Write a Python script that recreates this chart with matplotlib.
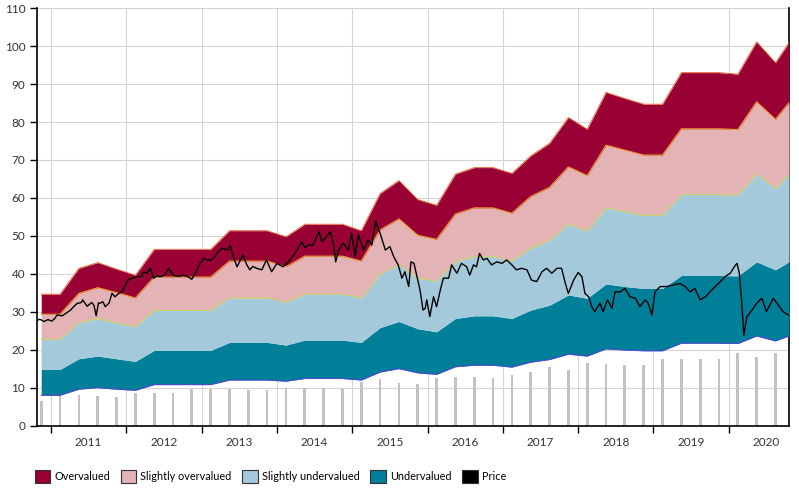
import matplotlib
matplotlib.use('Agg')
import matplotlib.pyplot as plt
from matplotlib.patches import Patch
import numpy as np

plt.rcParams['font.family'] = ['Lato', 'DejaVu Sans']

# quarterly valuation dates (decimal years)
q_dates = [2010.87, 2011.12, 2011.37, 2011.62, 2011.87, 2012.12, 2012.37, 2012.62,
           2012.87, 2013.12, 2013.37, 2013.62, 2013.87, 2014.12, 2014.37, 2014.62,
           2014.87, 2015.12, 2015.37, 2015.62, 2015.87, 2016.12, 2016.37, 2016.62,
           2016.87, 2017.12, 2017.37, 2017.62, 2017.87, 2018.12, 2018.37, 2018.62,
           2018.87, 2019.12, 2019.37, 2019.62, 2019.87, 2020.12, 2020.37, 2020.62]
band_dates = q_dates + [2020.80]

# band boundaries
low = [8.1, 8.1, 9.7, 10.1, 9.7, 9.4, 10.9, 10.9, 10.9, 10.9, 12.1, 12.1, 12.1, 11.8,
       12.5, 12.5, 12.5, 12.1, 14.2, 15.1, 14.0, 13.6, 15.6, 16.0, 16.0, 15.5, 16.8,
       17.5, 18.9, 18.4, 20.3, 20.0, 19.8, 19.8, 21.8, 21.8, 21.8, 21.7, 23.7, 22.4, 23.7]
under_top = [14.9, 14.9, 17.7, 18.4, 17.7, 17.0, 19.9, 19.9, 19.9, 19.9, 22.0, 22.0,
             22.0, 21.3, 22.6, 22.6, 22.6, 22.0, 25.9, 27.5, 25.6, 24.8, 28.3, 29.0,
             29.0, 28.3, 30.5, 31.8, 34.5, 33.6, 37.4, 36.7, 36.2, 36.2, 39.6, 39.6,
             39.6, 39.5, 43.2, 41.1, 43.2]
fair = [22.8, 22.8, 27.2, 28.2, 27.2, 26.1, 30.4, 30.4, 30.4, 30.4, 33.7, 33.7, 33.7,
        32.6, 34.7, 34.7, 34.7, 33.7, 40.0, 42.4, 38.9, 38.1, 43.2, 44.6, 44.6, 43.4,
        46.8, 48.8, 53.1, 51.3, 57.4, 56.4, 55.4, 55.4, 60.9, 60.9, 60.9, 60.7, 66.3,
        62.5, 66.2]
over_low = [29.4, 29.4, 34.9, 36.4, 35.1, 33.7, 39.2, 39.2, 39.2, 39.2, 43.4, 43.4,
            43.4, 41.9, 44.7, 44.7, 44.7, 43.4, 51.6, 54.5, 50.2, 49.1, 55.8, 57.4,
            57.4, 56.0, 60.4, 62.8, 68.2, 65.9, 73.9, 72.6, 71.3, 71.3, 78.2, 78.2,
            78.2, 78.0, 85.3, 80.7, 85.1]
high = [34.7, 34.7, 41.5, 43.0, 41.3, 39.7, 46.5, 46.5, 46.5, 46.5, 51.4, 51.4, 51.4,
        49.8, 53.1, 53.1, 53.1, 51.4, 61.2, 64.6, 59.6, 58.1, 66.3, 68.0, 68.0, 66.5,
        71.1, 74.4, 81.2, 78.1, 87.8, 86.2, 84.7, 84.7, 93.0, 93.0, 93.0, 92.6, 101.1,
        95.6, 100.9]

# grey quarterly bars
bar_vals = [6.6, 8.2, 8.2, 7.9, 7.6, 8.7, 8.7, 8.7, 9.7, 9.7, 9.7, 9.5, 9.5, 10.1,
            10.1, 10.1, 9.7, 11.6, 12.4, 11.3, 11.1, 12.6, 12.9, 12.9, 12.6, 13.4,
            14.2, 15.5, 14.7, 16.6, 16.3, 16.1, 16.1, 17.6, 17.6, 17.6, 17.6, 19.2,
            18.2, 19.2]

# price
price_t = [2010.81, 2010.85, 2010.91, 2010.96, 2011.01, 2011.05, 2011.08, 2011.15,
           2011.21, 2011.26, 2011.30, 2011.35, 2011.39, 2011.41, 2011.42, 2011.48,
           2011.54, 2011.57, 2011.60, 2011.63, 2011.65, 2011.69, 2011.72, 2011.77,
           2011.81, 2011.85, 2011.90, 2011.94, 2011.99, 2012.02, 2012.08, 2012.14,
           2012.20, 2012.23, 2012.27, 2012.32, 2012.36, 2012.41, 2012.45, 2012.51,
           2012.56, 2012.63, 2012.69, 2012.76, 2012.82, 2012.87, 2012.94, 2012.98,
           2013.03, 2013.07, 2013.12, 2013.16, 2013.20, 2013.27, 2013.34, 2013.38,
           2013.42, 2013.47, 2013.55, 2013.60, 2013.64, 2013.68, 2013.73, 2013.80,
           2013.86, 2013.93, 2014.00, 2014.08, 2014.15, 2014.24, 2014.33, 2014.37,
           2014.42, 2014.48, 2014.52, 2014.56, 2014.60, 2014.64, 2014.71, 2014.75,
           2014.78, 2014.82, 2014.88, 2014.95, 2014.99, 2015.04, 2015.08, 2015.15,
           2015.21, 2015.26, 2015.31, 2015.37, 2015.44, 2015.50, 2015.55, 2015.61,
           2015.66, 2015.70, 2015.75, 2015.78, 2015.82, 2015.88, 2015.90, 2015.92,
           2015.94, 2015.97, 2015.99, 2016.03, 2016.08, 2016.12, 2016.17, 2016.21,
           2016.28, 2016.32, 2016.39, 2016.45, 2016.52, 2016.56, 2016.61, 2016.65,
           2016.69, 2016.74, 2016.79, 2016.85, 2016.92, 2016.99, 2017.05, 2017.12,
           2017.18, 2017.25, 2017.32, 2017.38, 2017.45, 2017.52, 2017.58, 2017.65,
           2017.72, 2017.78, 2017.83, 2017.87, 2017.94, 2018.00, 2018.05, 2018.09,
           2018.14, 2018.18, 2018.22, 2018.29, 2018.33, 2018.39, 2018.45, 2018.49,
           2018.56, 2018.62, 2018.69, 2018.76, 2018.82, 2018.89, 2018.93, 2018.98,
           2019.02, 2019.09, 2019.18, 2019.26, 2019.35, 2019.42, 2019.49, 2019.55,
           2019.62, 2019.69, 2019.75, 2019.82, 2019.89, 2019.95, 2020.02, 2020.08,
           2020.11, 2020.14, 2020.17, 2020.20, 2020.24, 2020.31, 2020.37, 2020.44,
           2020.50, 2020.59, 2020.66, 2020.72, 2020.79]
price_v = [27.7, 28.1, 27.5, 28.0, 27.6, 28.3, 29.2, 29.0,
           29.8, 30.5, 31.4, 32.3, 32.4, 32.7, 33.2, 31.5,
           32.5, 31.8, 29.0, 32.4, 32.3, 32.7, 31.4, 32.3,
           34.9, 34.0, 34.9, 35.3, 37.1, 38.4, 38.9, 39.3,
           39.3, 40.6, 40.2, 41.5, 38.9, 39.5, 39.3, 39.7,
           41.5, 39.6, 39.4, 39.7, 39.3, 38.6, 41.1, 42.8,
           44.1, 43.7, 43.7, 44.1, 45.4, 46.8, 46.3, 47.4,
           44.6, 41.9, 45.0, 42.4, 41.1, 42.0, 41.5, 41.1,
           43.7, 40.6, 42.8, 41.9, 43.2, 45.4, 48.5, 47.0,
           47.6, 47.6, 49.5, 51.1, 48.5, 49.4, 51.1, 48.0,
           43.2, 46.3, 48.1, 46.3, 50.7, 44.6, 50.3, 46.3,
           48.9, 47.6, 54.0, 50.7, 46.3, 47.2, 44.6, 42.4,
           38.9, 40.6, 36.7, 43.2, 42.8, 37.5, 35.8, 33.2,
           30.5, 31.0, 33.2, 28.8, 34.0, 31.4, 35.8, 38.9,
           38.9, 42.4, 40.2, 42.8, 41.9, 39.7, 42.4, 41.9,
           45.4, 43.7, 44.1, 42.4, 43.2, 42.8, 43.7, 42.4,
           41.1, 41.5, 41.1, 38.4, 38.0, 40.6, 41.5, 40.2,
           41.5, 41.5, 37.5, 34.9, 38.4, 40.4, 39.3, 34.9,
           34.0, 31.4, 30.1, 32.3, 30.1, 33.2, 31.0, 35.3,
           35.3, 36.2, 34.0, 33.6, 31.4, 33.2, 32.3, 29.2,
           35.3, 36.7, 36.7, 37.1, 37.5, 36.7, 35.3, 36.2,
           33.2, 34.0, 35.3, 36.7, 38.0, 39.3, 40.2, 42.1,
           42.8, 40.2, 33.2, 23.9, 28.8, 30.5, 32.3, 33.6,
           30.1, 33.6, 31.8, 30.1, 29.2]

years = list(range(2011, 2021))
labels = ['Overvalued', 'Slightly overvalued', 'Slightly undervalued', 'Undervalued', 'Price']
colors = ['#990033', '#e3b3b5', '#a3c9da', '#007f99', '#000000']

fig = plt.figure(figsize=(7.99, 4.91), dpi=100)
ax = fig.add_axes([0.0463, 0.1324, 0.9412, 0.8513])

ax.bar(q_dates, bar_vals, width=0.036, color='#c2c2c2', zorder=2)

ax.fill_between(band_dates, low, under_top, color=colors[3], lw=0, zorder=3)
ax.fill_between(band_dates, under_top, fair, color=colors[2], lw=0, zorder=3)
ax.fill_between(band_dates, fair, over_low, color=colors[1], lw=0, zorder=3)
ax.fill_between(band_dates, over_low, high, color=colors[0], lw=0, zorder=3)
ax.plot(band_dates, low, color='#4a4ad0', lw=0.8, zorder=4)
ax.plot(band_dates, fair, color='#c8d46a', lw=0.8, zorder=4)
ax.plot(band_dates, over_low, color='#f0a030', lw=0.8, zorder=4)
ax.plot(band_dates, high, color='#e8602c', lw=0.6, zorder=4)

ax.plot(price_t, price_v, color='black', lw=1.0, zorder=5)

ax.set_xlim(2010.814, 2020.80)
ax.set_ylim(0, 110)
ax.set_yticks(range(0, 111, 10))
ax.set_xticks(years)
ax.set_xticklabels([])
ax.set_xticks([y + 0.5 for y in years], minor=True)
ax.set_xticklabels([str(y) for y in years], minor=True)
ax.tick_params(axis='x', which='minor', length=0, pad=8)
ax.tick_params(axis='both', which='major', length=5, width=1, direction='out',
               labelsize=8.5, labelcolor='#333333')
ax.tick_params(axis='x', which='minor', labelsize=8.5, labelcolor='#333333')
ax.grid(True, which='major', color='#d4d4d4', lw=0.8, zorder=0)
ax.set_axisbelow(True)
for s in ['left', 'bottom', 'right']:
    ax.spines[s].set_color('black')
    ax.spines[s].set_linewidth(1.2)
ax.spines['top'].set_visible(False)

handles = [Patch(facecolor=c, edgecolor='#333333', lw=0.8) for c in colors]
fig.legend(handles, labels, loc='center left', bbox_to_anchor=(0.038, 0.029),
           ncol=5, frameon=False, fontsize=7.8, handlelength=1.45, handleheight=1.45,
           handletextpad=0.35, columnspacing=1.0, borderaxespad=0)

fig.savefig('out.png', dpi=100)
